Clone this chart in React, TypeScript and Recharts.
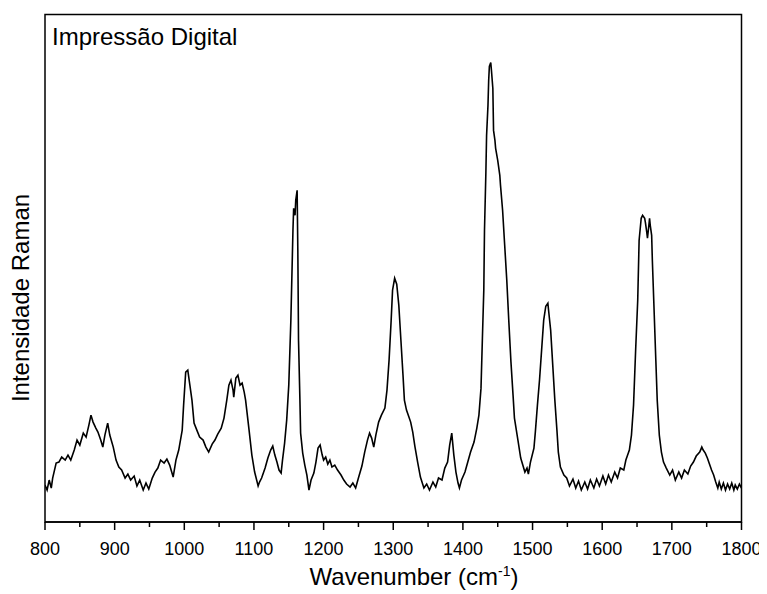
import React from "react";
import { LineChart, Line, XAxis, YAxis, ReferenceArea, Label } from "recharts";

const wavenumbers: number[] = [
  800, 803, 806, 809, 811, 816, 820, 824, 829, 833, 837, 842, 846, 850, 855, 859, 863, 866, 869, 873,
  876, 880, 883, 886, 890, 893, 898, 902, 906, 910, 915, 919, 923, 928, 932, 936, 941, 945, 949, 954,
  958, 962, 966, 971, 975, 979, 984, 988, 992, 997, 999, 1002, 1005, 1008, 1011, 1014,
  1018, 1022, 1027, 1031, 1035, 1040, 1044, 1048, 1053, 1057, 1061, 1064, 1067, 1070, 1071, 1074, 1077, 1080, 1083, 1086,
  1088, 1093, 1097, 1101, 1106, 1108, 1111, 1116, 1120, 1124, 1127, 1130, 1133, 1136, 1139, 1141, 1144, 1147, 1150, 1153,
  1156, 1157, 1159, 1160, 1162, 1163, 1164, 1166, 1167, 1170, 1173, 1176, 1179, 1182, 1186, 1189, 1192, 1195, 1198, 1200,
  1203, 1206, 1209, 1212, 1216, 1220, 1225, 1229, 1233, 1238, 1242, 1246, 1250, 1255, 1259, 1263, 1266, 1269, 1272, 1275,
  1279, 1283, 1288, 1291, 1294, 1297, 1299, 1302, 1305, 1308, 1311, 1314, 1316, 1319, 1322, 1325, 1328, 1331, 1335, 1339,
  1344, 1348, 1352, 1357, 1361, 1365, 1370, 1374, 1378, 1381, 1384, 1387, 1390, 1393, 1395, 1398, 1403, 1407, 1411, 1416,
  1420, 1423, 1426, 1428, 1430, 1431, 1433, 1434, 1436, 1437, 1438, 1440, 1441, 1443, 1444, 1446, 1447, 1450, 1453, 1454,
  1457, 1460, 1463, 1466, 1469, 1472, 1474, 1479, 1483, 1486, 1489, 1492, 1494, 1497, 1502, 1504, 1507, 1510, 1513, 1516,
  1519, 1522, 1523, 1526, 1529, 1532, 1535, 1537, 1540, 1545, 1549, 1553, 1558, 1562, 1566, 1570, 1575, 1579, 1583, 1588,
  1592, 1596, 1601, 1605, 1609, 1613, 1618, 1622, 1626, 1631, 1634, 1636, 1639, 1642, 1645, 1648, 1651, 1653, 1656, 1658,
  1661, 1662, 1664, 1665, 1667, 1668, 1669, 1671, 1672, 1674, 1677, 1679, 1682, 1685, 1688, 1692, 1697, 1701, 1705, 1710,
  1714, 1718, 1723, 1727, 1731, 1735, 1740, 1743, 1745, 1748, 1751, 1754, 1757, 1760, 1763, 1766, 1768, 1771, 1774, 1777,
  1780, 1783, 1786, 1789, 1791, 1794, 1797, 1800,
];

const intensities: number[] = [
  34, 29, 39, 31, 41, 56, 57, 62, 59, 64, 59, 69, 79, 74, 86, 82, 94, 104, 97, 91,
  87, 79, 72, 84, 96, 84, 72, 59, 52, 49, 41, 45, 39, 43, 33, 39, 29, 36, 30, 41,
  47, 51, 59, 56, 60, 54, 42, 59, 69, 89, 114, 147, 149, 134, 119, 96,
  89, 82, 79, 72, 67, 75, 79, 85, 91, 101, 119, 134, 139, 129, 122, 141, 144, 134, 136, 127,
  119, 89, 64, 47, 33, 37, 41, 51, 61, 69, 73, 64, 57, 49, 46, 59, 76, 99, 134, 199,
  289, 311, 304, 319, 329, 269, 179, 119, 86, 66, 54, 44, 29, 39, 46, 57, 71, 74, 64, 59,
  62, 55, 59, 52, 54, 49, 44, 39, 35, 32, 36, 31, 41, 53, 67, 79, 86, 81, 72, 84,
  97, 104, 111, 129, 159, 199, 229, 241, 235, 214, 179, 144, 119, 109, 103, 97, 87, 73, 57, 42,
  31, 35, 29, 37, 32, 41, 39, 51, 57, 74, 86, 64, 47, 36, 31, 39, 47, 57, 67, 77,
  91, 104, 131, 181, 229, 289, 347, 384, 414, 439, 453, 457, 449, 431, 389, 379, 371, 359, 344, 334,
  309, 274, 239, 197, 157, 124, 101, 79, 61, 54, 47, 51, 45, 57, 71, 87, 114, 139, 169, 199,
  213, 216, 209, 189, 154, 119, 89, 67, 52, 44, 41, 33, 40, 31, 38, 29, 37, 30, 39, 31,
  40, 33, 43, 35, 44, 37, 47, 41, 51, 49, 59, 63, 69, 84, 114, 169, 219, 279, 301, 304,
  301, 297, 287, 281, 294, 301, 294, 284, 259, 219, 159, 119, 84, 67, 57, 51, 44, 49, 39, 47,
  41, 49, 45, 53, 57, 63, 67, 72, 69, 66, 61, 55, 49, 44, 37, 31, 37, 30, 36, 29,
  35, 30, 36, 29, 34, 30, 35, 31,
];

const xTicks: number[] = [
  800, 850, 900, 950, 1000, 1050, 1100, 1150, 1200, 1250, 1300, 1350, 1400, 1450, 1500,
  1550, 1600, 1650, 1700, 1750, 1800,
];

const title = "Impressão Digital";
const yTitle = "Intensidade Raman";
const xTitle = "Wavenumber (cm";

const data = wavenumbers.map((w, i) => ({ wn: w, I: intensities[i] }));

const FONT = "'Liberation Sans', Arial, sans-serif";

const XTick = (props: any) => {
  const { x, y, payload } = props;
  const v = payload.value as number;
  const major = v % 100 === 0;
  return (
    <g>
      <line x1={x} x2={x} y1={y} y2={y + (major ? 8 : 5)} stroke="#000" strokeWidth={1.5} />
      {major && (
        <text x={x} y={y + 33} textAnchor="middle" fontSize={18} fontFamily={FONT} fill="#000">
          {v}
        </text>
      )}
    </g>
  );
};

const Texts = () => (
  <g>
    <text x={44} y={37} fontSize={24} fontFamily={FONT} fill="#000">
      {title}
    </text>
    <text
      x={21}
      y={290}
      fontSize={24}
      fontFamily={FONT}
      fill="#000"
      textAnchor="middle"
      transform="rotate(-90 21 290)"
    >
      {yTitle}
    </text>
    <text x={406} y={577} fontSize={24} fontFamily={FONT} fill="#000" textAnchor="middle">
      <tspan>{xTitle}</tspan>
      <tspan dy={-9} fontSize={14}>-1</tspan>
      <tspan dy={9}>)</tspan>
    </text>
  </g>
);

export default function App() {
  return (
    <LineChart
      width={759}
      height={586}
      data={data}
      margin={{ top: 6.5, right: 25.5, bottom: 0, left: 0 }}
    >
      <XAxis
        dataKey="wn"
        type="number"
        domain={[800, 1800]}
        ticks={xTicks}
        interval={0}
        tickLine={false}
        tickSize={0}
        tickMargin={0}
        tick={<XTick />}
        axisLine={{ stroke: "#000", strokeWidth: 1.5 }}
        height={72}
        allowDataOverflow
      />
      <YAxis
        type="number"
        domain={[-3, 505]}
        width={37}
        tick={false}
        tickLine={false}
        axisLine={false}
        allowDataOverflow
      >
        <Label content={() => <Texts />} />
      </YAxis>
      <ReferenceArea
        x1={800}
        x2={1800}
        y1={-3}
        y2={505}
        fill="none"
        stroke="#000"
        strokeWidth={1.5}
        ifOverflow="extendDomain"
      />
      <Line
        type="linear"
        dataKey="I"
        stroke="#000"
        strokeWidth={1.6}
        dot={false}
        isAnimationActive={false}
      />
    </LineChart>
  );
}
